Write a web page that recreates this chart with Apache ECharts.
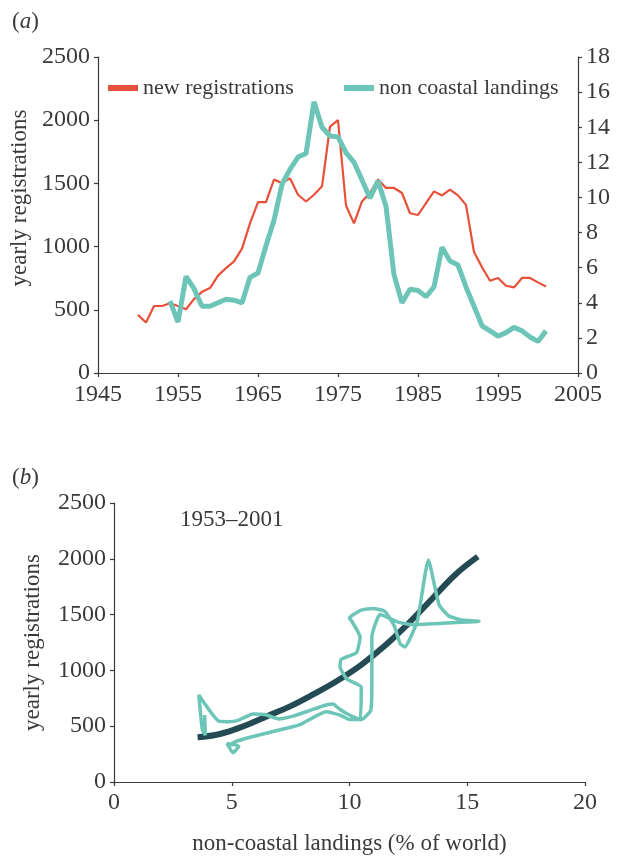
<!DOCTYPE html>
<html>
<head>
<meta charset="utf-8">
<script src="https://cdn.jsdelivr.net/npm/echarts@6/dist/echarts.min.js"></script>
<style>
  html, body { margin: 0; padding: 0; background: #fff; }
  #chart { width: 618px; height: 857px; }
</style>
</head>
<body>
<div id="chart"></div>
<script>
// (a) yearly registrations, 1950-2001
const regYears = [1950, 1951, 1952, 1953, 1954, 1955, 1956, 1957, 1958, 1959,
  1960, 1961, 1962, 1963, 1964, 1965, 1966, 1967, 1968, 1969,
  1970, 1971, 1972, 1973, 1974, 1975, 1976, 1977, 1978, 1979,
  1980, 1981, 1982, 1983, 1984, 1985, 1986, 1987, 1988, 1989,
  1990, 1991, 1992, 1993, 1994, 1995, 1996, 1997, 1998, 1999,
  2000, 2001];
const registrations = [460, 400, 530, 530, 552, 530, 504, 584, 642, 672,
  770, 830, 883, 984, 1184, 1352, 1352, 1530, 1504, 1540,
  1410, 1357, 1410, 1477, 1950, 2000, 1325, 1184, 1357, 1424,
  1530, 1464, 1464, 1424, 1264, 1250, 1344, 1437, 1405, 1450,
  1405, 1330, 957, 837, 730, 752, 690, 677, 752, 752,
  717, 685];

// (a) non coastal landings (% of world), 1954-2001
const landYears = [1954, 1955, 1956, 1957, 1958, 1959,
  1960, 1961, 1962, 1963, 1964, 1965, 1966, 1967, 1968, 1969,
  1970, 1971, 1972, 1973, 1974, 1975, 1976, 1977, 1978, 1979,
  1980, 1981, 1982, 1983, 1984, 1985, 1986, 1987, 1988, 1989,
  1990, 1991, 1992, 1993, 1994, 1995, 1996, 1997, 1998, 1999,
  2000, 2001];
const landings = [4.1, 2.9, 5.5, 4.8, 3.8, 3.8,
  4.0, 4.2, 4.15, 4.0, 5.45, 5.7, 7.25, 8.7, 10.75, 11.6,
  12.3, 12.5, 15.45, 14.0, 13.5, 13.45, 12.55, 12.0, 11.0, 9.95,
  10.95, 9.5, 5.6, 4.0, 4.77, 4.7, 4.35, 4.9, 7.16, 6.38,
  6.15, 4.9, 3.8, 2.69, 2.4, 2.1, 2.3, 2.6, 2.4, 2.05,
  1.8, 2.4];

// (b) trajectory: landings (% of world) vs registrations, 1953-2001
const pathX = [3.85, 3.88, 3.75, 3.6, 4.45, 4.9, 5.3, 5.9, 6.4, 7.0,
  7.6, 8.3, 9.0, 9.3, 9.6, 10.0, 10.45, 10.5, 9.9, 9.6,
  9.65, 10.3, 10.45, 10.1, 10.0, 10.5, 11.0, 11.5, 11.9, 12.15,
  12.35, 12.6, 12.9, 13.35, 13.8, 14.2, 14.7, 15.5, 14.5, 12.7,
  12.1, 11.3, 10.95, 10.95, 10.9, 10.5, 10.0, 9.6, 9.0, 7.9,
  6.8, 5.5, 5.0, 5.3, 5.05, 4.8, 5.05];
const pathY = [600, 420, 470, 780, 545, 540, 555, 610, 605, 565,
  590, 640, 690, 700, 650, 600, 560, 850, 920, 1030,
  1100, 1160, 1300, 1440, 1470, 1540, 1555, 1530, 1400, 1240,
  1210, 1300, 1460, 1990, 1590, 1490, 1455, 1440, 1430, 1410,
  1430, 1500, 1300, 900, 640, 560, 560, 600, 630, 515,
  455, 385, 345, 320, 262, 345, 330];

// (b) fitted curve
const fitX = [3.55, 4.5, 5.5, 6.5, 7.5, 8.5, 9.5, 10.5, 11.5, 12.5, 13.5, 14.5, 15.45];
const fitY = [400, 430, 500, 590, 680, 790, 910, 1050, 1220, 1420, 1640, 1860, 2020];

// tick settings
const yearTicks = { min: 1945, max: 2005, interval: 10 };
const regTicks = { min: 0, max: 2500, interval: 500 };
const landTicks = { min: 0, max: 18, interval: 2 };
const pctTicks = { min: 0, max: 20, interval: 5 };

const RED = '#e8503a';
const TEAL = '#6cc5b7';
const DARK = '#244b53';
const INK = '#3a3a3a';
const FONT = "'Liberation Serif', 'Times New Roman', serif";
const FS = 23;

const pairs = (xs, ys) => xs.map((x, i) => [x, ys[i]]);

const axisLine = { show: true, lineStyle: { color: INK, width: 1.2 } };
const axisTick = { show: true, length: 4, lineStyle: { color: INK, width: 1.2 } };
const axisLabel = {
  color: INK, fontFamily: FONT, fontSize: 24, margin: 8,
  formatter: (v) => String(v)
};
const nameStyle = { fontFamily: FONT, fontSize: FS, color: INK };

const chart = echarts.init(document.getElementById('chart'));

chart.setOption({
  animation: false,
  backgroundColor: '#fff',
  textStyle: { fontFamily: FONT, color: INK },
  grid: [
    { left: 98, top: 57, width: 480, height: 316 },
    { left: 114, top: 503, width: 471, height: 279 }
  ],
  legend: {
    left: 103, top: 72,
    itemWidth: 30, itemHeight: 6, itemGap: 50,
    icon: 'rect',
    textStyle: { fontFamily: FONT, fontSize: 22, color: INK },
    data: ['new registrations', 'non coastal landings']
  },
  xAxis: [
    {
      gridIndex: 0, type: 'value', ...yearTicks,
      axisLine, axisTick, splitLine: { show: false },
      axisLabel: { ...axisLabel, margin: 10 }
    },
    {
      gridIndex: 1, type: 'value', ...pctTicks,
      axisLine, axisTick, splitLine: { show: false },
      axisLabel: { ...axisLabel, margin: 9 },
      name: 'non-coastal landings (% of world)',
      nameLocation: 'middle', nameGap: 50,
      nameTextStyle: nameStyle
    }
  ],
  yAxis: [
    {
      gridIndex: 0, type: 'value', ...regTicks,
      axisLine, axisTick, splitLine: { show: false }, axisLabel,
      name: 'yearly registrations', nameLocation: 'middle', nameGap: 48,
      nameTextStyle: { ...nameStyle, padding: [0, 0, 0, 34] }
    },
    {
      gridIndex: 0, type: 'value', position: 'right', ...landTicks,
      axisLine, axisTick, splitLine: { show: false },
      axisLabel: { ...axisLabel, margin: 8 }
    },
    {
      gridIndex: 1, type: 'value', ...regTicks,
      axisLine, axisTick, splitLine: { show: false }, axisLabel,
      name: 'yearly registrations', nameLocation: 'middle', nameGap: 70,
      nameTextStyle: nameStyle
    }
  ],
  graphic: [
    {
      type: 'text', left: 12, top: 10,
      style: { text: '({i|a})', font: FS + 'px ' + FONT, fill: INK,
        rich: { i: { fontStyle: 'italic', fontSize: FS, fontFamily: FONT, fill: INK } } }
    },
    {
      type: 'text', left: 12, top: 466,
      style: { text: '({i|b})', font: FS + 'px ' + FONT, fill: INK,
        rich: { i: { fontStyle: 'italic', fontSize: FS, fontFamily: FONT, fill: INK } } }
    },
    {
      type: 'text', left: 180, top: 508,
      style: { text: '1953–2001', font: FS + 'px ' + FONT, fill: INK }
    }
  ],
  series: [
    {
      name: 'new registrations', type: 'line',
      xAxisIndex: 0, yAxisIndex: 0,
      data: pairs(regYears, registrations),
      showSymbol: false, color: RED,
      lineStyle: { color: RED, width: 2.2 }
    },
    {
      name: 'non coastal landings', type: 'line',
      xAxisIndex: 0, yAxisIndex: 1,
      data: pairs(landYears, landings),
      showSymbol: false, color: TEAL,
      lineStyle: { color: TEAL, width: 5 }
    },
    {
      name: 'fit', type: 'line',
      xAxisIndex: 1, yAxisIndex: 2,
      data: pairs(fitX, fitY),
      showSymbol: false, smooth: 0.4,
      lineStyle: { color: DARK, width: 6 }
    },
    {
      name: 'trajectory', type: 'line',
      xAxisIndex: 1, yAxisIndex: 2,
      data: pairs(pathX, pathY),
      showSymbol: false, smooth: 0.15,
      lineStyle: { color: TEAL, width: 3.5 }
    }
  ]
});
</script>
</body>
</html>
